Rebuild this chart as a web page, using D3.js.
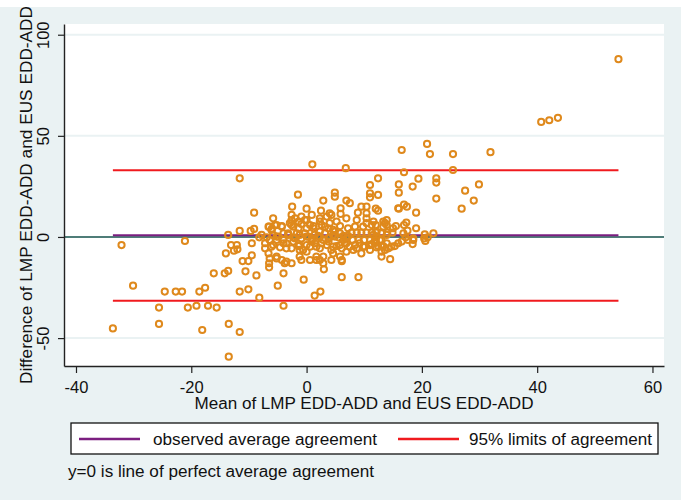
<!DOCTYPE html>
<html>
<head>
<meta charset="utf-8">
<script src="https://cdn.jsdelivr.net/npm/d3@7"></script>
<style>
  body{margin:0;background:#fff;}
  svg{display:block;font-family:"Liberation Sans",Arial,sans-serif;}
</style>
</head>
<body>
<div id="chart"></div>
<script>
// mean vs difference pairs
var lowerTail = [
  [-33.6,-45.2],[-32.1,-4.0],[-30.1,-24.1],[-25.6,-34.9],[-25.6,-43.0],[-24.6,-27],[-22.7,-27],[-21.6,-27],
  [-21.1,-2.0],[-20.6,-34.9],[-19.1,-34.0],[-18.6,-27],[-18.1,-46.0],[-17.6,-25.1],[-17.1,-34.0],[-16.1,-18.0],
  [-15.6,-34.9],[-14.2,-18.0],[-14.0,-8.1],[-13.6,1.0],[-13.6,-16.8],[-13.5,-43.0],[-13.5,-59.2],[-13.1,-4.0],
  [-12.6,-6.8],[-12.1,-4.0],[-12.0,-6.1],[-11.6,29.0],[-11.6,3.0],[-11.6,-27],[-11.6,-47.0],[-11.1,-11.9],
  [-10.6,-17.0],[-10.1,-11.9],[-10.1,-25.9],[-9.7,3.0],[-9.5,-3.1],[-9.5,-9.1],[-9.1,4.0],[-9.1,12.0],
  [-8.7,-19.0],[-8.2,-0.2],[-8.2,-30.0]
];
var core = [
  [1.0,35.9],[6.8,34.0],[-1.5,20.9],[-2.5,15.0],[0.0,14.0],[2.9,18.0],[4.9,21.9],[4.9,19.9],[6.9,18.0],[7.5,16.7],
  [2.5,13.0],[4.0,11.7],[5.9,14.2],[5.9,11.4],[8.9,12.0],[9.5,15.0],
  [-5.8,9.2],[-2.6,10.9],[-2.6,8.4],[-2.0,9.2],[-0.9,10.1],[0.0,8.4],[0.9,10.9],[2.3,9.2],[2.3,7.6],[3.5,10.1],
  [4.3,10.9],[5.2,7.6],[6.9,9.2],[8.7,8.4],[-1.4,7.6],[-0.3,8.4],[4.0,6.8],
  [-6.6,5.1],[-6.1,3.5],[-5.5,5.9],[-4.3,5.4],[-2.9,6.8],[-2.3,5.1],[-1.4,4.3],[-0.9,6.4],[0.0,4.3],[1.2,5.4],
  [2.6,5.9],[3.8,4.3],[4.6,3.5],[5.8,5.4],[7.2,4.3],[8.4,5.1],[9.8,5.1],[-5.2,5.9],[-4.3,5.1],[-2.6,5.9],
  [0.6,5.9],[1.2,4.3],[3.2,5.1],[-6.5,5.1],[-6.0,4.1],
  [-7.8,1.0],[-6.9,-0.2],[-5.8,1.0],[-4.9,0.2],[-4.0,1.8],[-3.2,1.0],[-2.3,-0.2],[-1.7,1.8],[-0.3,1.8],[0.3,0.2],
  [1.4,1.0],[3.2,1.8],[4.0,-0.2],[4.9,0.2],[5.8,1.8],[6.4,0.5],[7.8,2.1],[8.7,2.1],[9.5,2.1],[10.4,2.1],
  [-5.2,0.2],[-3.2,1.8],[-1.2,1.0],[0.0,0.2],[2.0,0.5],[4.6,1.0],[7.2,0.5],[2.3,2.6],[4.9,2.6],
  [-6.4,-1.5],[-5.2,-1.5],[-0.9,-0.7],[0.9,-0.7],[2.3,-0.2],[6.9,-0.7],[-4.0,-1.5],[-2.0,-0.7],[0.9,-1.5],
  [2.9,-1.5],[3.8,-0.7],[5.5,-0.2],[6.4,-1.5],[-2.3,-2.3],[0.9,-2.3],[3.8,-2.3],[6.6,-2.8],
  [-7.2,-3.1],[-7.2,-5.6],[-6.1,-4.8],[-4.0,-3.1],[-3.5,-5.6],[-1.4,-4.5],[-1.2,-6.4],[0.0,-4.0],[1.7,-4.8],
  [2.6,-3.1],[4.6,-4.8],[5.8,-4.0],[7.5,-4.8],[8.4,-4.0],[9.2,-3.1],[-5.8,-4.0],[-4.6,-5.1],[-3.5,-3.1],
  [-2.6,-5.6],[-1.2,-4.0],[-0.6,-6.4],[0.6,-4.8],[1.4,-3.1],[2.3,-5.6],[3.5,-4.0],[4.3,-6.4],[5.2,-4.5],
  [6.1,-5.6],[6.9,-3.1],
  [-6.6,-8.1],[-6.4,-10.6],[-5.2,-10.6],[-4.3,-11.4],[-3.8,-13.0],[-2.6,-13.0],[-1.2,-9.7],[0.0,-7.3],
  [0.6,-11.4],[1.7,-9.7],[2.3,-11.4],[2.9,-13.0],[4.6,-8.1],[5.8,-9.7],[6.9,-7.3],[8.1,-6.4],[9.5,-8.1],
  [-5.2,-9.7],[-3.5,-12.2],[-0.9,-11.4],[1.7,-11.4],[2.9,-9.7],[4.3,-11.4],[6.1,-11.4],[6.1,-12.0],
  [-6.5,-15.0],[-6.5,-13.0],[-4.0,-18.0],[-5.0,-24.1],[-4.0,-34.0],[-0.5,-21.1],[1.4,-29.0],[2.4,-27.0],
  [3.0,-16.0],[6.1,-19.9],[9.0,-19.9]
];
var upperTail = [
  [16.5,43.0],[20.9,46.0],[21.4,41.0],[25.4,41.0],[31.9,41.9],[16.9,32.0],[25.4,33.1],[12.4,29.0],[16.0,26.0],
  [16.0,21.9],[19.4,28.8],[22.5,29.0],[22.5,26.9],[18.4,24.9],[29.9,26.0],[27.5,22.9],[29.0,18.0],[22.5,19.0],
  [26.9,14.0],[12.4,20.8],[11.0,25.7],[11.0,21.6],[11.0,19.6],[16.0,14.0],[16.9,16.0],[17.4,15.0],[12.0,14.0],
  [12.4,13.0],[19.0,12.0],[13.9,8.4],[13.6,6.8],[13.3,5.1],[12.0,5.9],[17.3,7.1],[16.9,5.9],[19.0,4.3],
  [15.5,5.4],[15.0,4.3],[20.5,1.3],[22.0,1.8],[20.4,-0.7],[18.5,-1.5],[18.4,-3.5],[14.5,-11.0],[13.0,-9.7],
  [16.8,1.8],[17.2,-0.2],[16.5,-2.3],[15.9,-3.1],[15.3,-4.5],[14.7,-4.8],[14.2,-5.6],[13.6,-6.4],[11.6,1.0],
  [12.1,0.2],[12.7,-1.5],[11.8,-2.3],[11.3,-3.5],[12.4,-4.5],[10.4,15.0],[10.4,11.7],[10.4,9.2],[10.4,6.8],
  [11.6,7.6],[13.3,7.6],[13.9,5.9],[11.3,5.9],[15.9,14.2],[17.6,-1.5],[13.0,-7.3],[11.3,2.1],[12.1,2.1],
  [13.0,2.1],[14.0,2.1],[14.9,2.1],[8.0,-1.5],[9.0,-1.5],[10.0,-1.5],[11.0,-1.5],[12.0,-1.5],[13.0,-1.5],
  [8.7,-5.6],[9.8,-4.8],[11.0,-6.4],[12.1,-5.1],[13.3,-4.5],[10.1,-4.8],[11.0,-4.0],[11.8,-3.1],[13.0,-4.8],
  [13.9,-3.1],[13.0,1.8],[13.9,1.0],[12.1,2.6],[18.5,-0.7],[17.5,3.1],[20.6,-2.0],[21.0,-0.2]
];
var farRight = [[40.7,56.9],[42.1,57.7],[43.6,58.9],[54.1,87.9]];

var meanDiff = 0.8;          // observed average agreement
var limits = [-31.5, 33.0];  // 95% limits of agreement
var xTicks = [-40, -20, 0, 20, 40, 60];
var yTicks = [-50, 0, 50, 100];
var legendLabels = ["observed average agreement", "95% limits of agreement"];
var xTitle = "Mean of LMP EDD-ADD and EUS EDD-ADD";
var yTitle = "Difference of LMP EDD-ADD and EUS EDD-ADD";
var note = "y=0 is line of perfect average agreement";

var W = 685, H = 502;
var plot = {left: 64, right: 664, top: 24, bottom: 366};
var bg = "#eaf2f3", orange = "#df891c", purple = "#7b1f80", red = "#f01a1e", teal = "#4f7d78";

var points = lowerTail.concat(core, upperTail, farRight);

var x = d3.scaleLinear().domain([-42.08, 62.0]).range([plot.left, plot.right]);
var y = d3.scaleLinear().domain([-63.8, 105.3]).range([plot.bottom, plot.top]);

var svg = d3.select("#chart").append("svg")
  .attr("width", W).attr("height", H);

svg.append("rect").attr("x", 0).attr("y", 7).attr("width", 681).attr("height", 493).attr("fill", bg);
svg.append("rect")
  .attr("x", plot.left).attr("y", plot.top)
  .attr("width", plot.right - plot.left).attr("height", plot.bottom - plot.top)
  .attr("fill", "#fff");

// grid
svg.append("g").selectAll("line").data(yTicks.filter(function(d){ return d !== 0; })).enter().append("line")
  .attr("x1", plot.left).attr("x2", plot.right)
  .attr("y1", function(d){ return y(d); }).attr("y2", function(d){ return y(d); })
  .attr("stroke", bg).attr("stroke-width", 2);

// y=0 line
svg.append("line")
  .attr("x1", plot.left).attr("x2", plot.right)
  .attr("y1", y(0)).attr("y2", y(0))
  .attr("stroke", teal).attr("stroke-width", 2);

var ext = d3.extent(points, function(d){ return d[0]; });

svg.append("line")
  .attr("x1", x(ext[0])).attr("x2", x(ext[1]))
  .attr("y1", y(meanDiff)).attr("y2", y(meanDiff))
  .attr("stroke", purple).attr("stroke-width", 2);

svg.append("g").selectAll("line").data(limits).enter().append("line")
  .attr("x1", x(ext[0])).attr("x2", x(ext[1]))
  .attr("y1", function(d){ return y(d); }).attr("y2", function(d){ return y(d); })
  .attr("stroke", red).attr("stroke-width", 2);

// points
svg.append("g").selectAll("circle").data(points).enter().append("circle")
  .attr("cx", function(d){ return x(d[0]); })
  .attr("cy", function(d){ return y(d[1]); })
  .attr("r", 3.1)
  .attr("fill", "none")
  .attr("stroke", orange)
  .attr("stroke-width", 2);

// axes (plain hyphen for negatives, as in the original)
var fmt = function(d){ return String(d); };
var xAxis = d3.axisBottom(x).tickValues(xTicks).tickSize(7).tickSizeOuter(0).tickFormat(fmt);
var gx = svg.append("g").attr("transform", "translate(0," + plot.bottom + ")").call(xAxis);
gx.selectAll("text").attr("y", 27).attr("dy", null)
  .attr("fill", "#111").style("font-size", "16.5px").style("font-family", "Liberation Sans, Arial, sans-serif");

var yAxis = d3.axisLeft(y).tickValues(yTicks).tickSize(6).tickSizeOuter(0).tickFormat(fmt);
var gy = svg.append("g").attr("transform", "translate(" + plot.left + ",0)").call(yAxis);
gy.selectAll("text")
  .attr("x", null).attr("dy", null)
  .attr("text-anchor", "middle")
  .attr("transform", "translate(-15.5,0) rotate(-90)")
  .attr("fill", "#111").style("font-size", "16.5px").style("font-family", "Liberation Sans, Arial, sans-serif");

[gx, gy].forEach(function(g){
  g.select(".domain").attr("stroke", "#222").attr("stroke-width", 1.4);
  g.selectAll(".tick line").attr("stroke", "#222").attr("stroke-width", 1.2);
});

// titles
svg.append("text")
  .attr("x", (plot.left + plot.right) / 2).attr("y", 409)
  .attr("text-anchor", "middle").attr("font-size", 16).attr("fill", "#111")
  .attr("textLength", 339).attr("lengthAdjust", "spacingAndGlyphs")
  .text(xTitle);

svg.append("text")
  .attr("transform", "translate(32," + ((plot.top + plot.bottom) / 2) + ") rotate(-90)")
  .attr("text-anchor", "middle").attr("font-size", 16.5).attr("fill", "#111")
  .attr("textLength", 378).attr("lengthAdjust", "spacingAndGlyphs")
  .text(yTitle);

// legend
var legend = svg.append("g");
legend.append("rect")
  .attr("x", 71).attr("y", 423).attr("width", 587).attr("height", 31)
  .attr("fill", "#fff").attr("stroke", "#111").attr("stroke-width", 1.3);

var items = [
  {label: legendLabels[0], color: purple, x0: 79, tx: 153, len: 224},
  {label: legendLabels[1], color: red, x0: 398, tx: 469, len: 183}
];
items.forEach(function(it){
  legend.append("line")
    .attr("x1", it.x0).attr("x2", it.x0 + 61)
    .attr("y1", 439).attr("y2", 439)
    .attr("stroke", it.color).attr("stroke-width", 2.5);
  legend.append("text")
    .attr("x", it.tx).attr("y", 445)
    .attr("font-size", 16).attr("fill", "#111")
    .attr("textLength", it.len).attr("lengthAdjust", "spacingAndGlyphs")
    .text(it.label);
});

svg.append("text")
  .attr("x", 68).attr("y", 477)
  .attr("font-size", 16).attr("fill", "#111")
  .attr("textLength", 306).attr("lengthAdjust", "spacingAndGlyphs")
  .text(note);
</script>
</body>
</html>
